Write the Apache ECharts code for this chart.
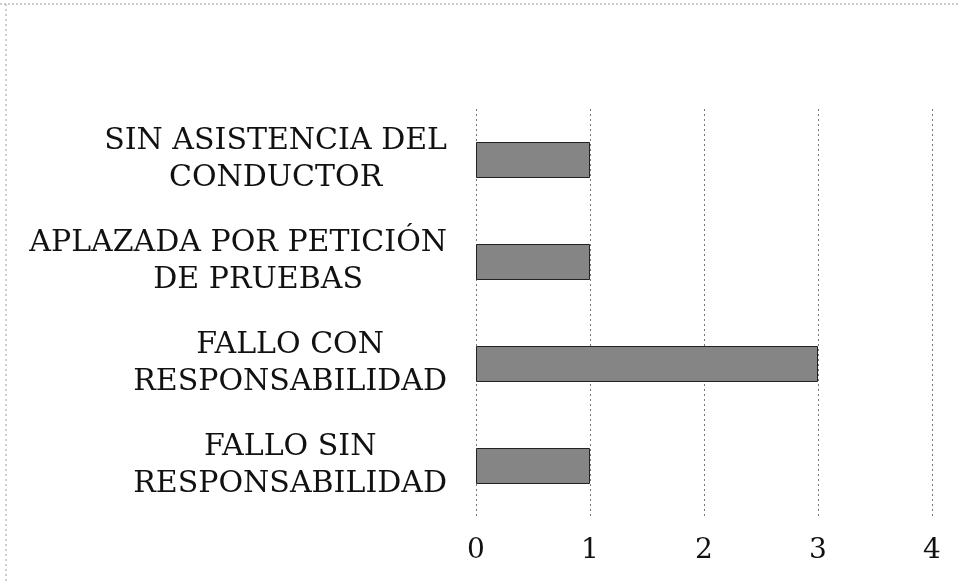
<!DOCTYPE html>
<html>
<head>
<meta charset="utf-8">
<script src="https://cdn.jsdelivr.net/npm/echarts@6/dist/echarts.min.js"></script>
<style>html,body{margin:0;padding:0;background:#fff}#c{width:959px;height:583px}</style>
</head>
<body>
<div id="c"></div>
<script>
const categories = [
  'SIN ASISTENCIA DEL\nCONDUCTOR',
  'APLAZADA POR PETICIÓN\nDE PRUEBAS',
  'FALLO CON\nRESPONSABILIDAD',
  'FALLO SIN\nRESPONSABILIDAD'
];
const values = [1, 1, 3, 1];
const xTicks = [0, 1, 2, 3, 4];

const chart = echarts.init(document.getElementById('c'), null, {renderer: 'canvas'});
const serif = '"DejaVu Serif", "Liberation Serif", serif';
chart.setOption({
  backgroundColor: '#ffffff',
  animation: false,
  graphic: [
    {type: 'line', shape: {x1: 0, y1: 4, x2: 959, y2: 4}, style: {stroke: '#9a9a9a', lineWidth: 1, lineDash: [2, 2]}},
    {type: 'line', shape: {x1: 6, y1: 4, x2: 6, y2: 583}, style: {stroke: '#9a9a9a', lineWidth: 1, lineDash: [2, 3]}}
  ],
  grid: {left: 476, right: 27, top: 109, bottom: 66, containLabel: false},
  xAxis: {
    type: 'value',
    min: xTicks[0],
    max: xTicks[xTicks.length - 1],
    interval: 1,
    axisLine: {show: false},
    axisTick: {show: false},
    axisLabel: {fontFamily: serif, fontSize: 28, color: '#111', margin: 20},
    splitLine: {show: true, lineStyle: {color: '#777', type: [2, 3], width: 1}}
  },
  yAxis: {
    type: 'category',
    inverse: true,
    data: categories,
    axisLine: {show: false},
    axisTick: {show: false},
    axisLabel: {
      margin: 29,
      formatter: function (v) {
        return v.split('\n').map(function (s) {
          return (s === 'DE PRUEBAS' ? '{d|' : '{c|') + s + '}';
        }).join('\n');
      },
      rich: {
        c: {align: 'center', fontFamily: serif, fontSize: 30, color: '#111', lineHeight: 37},
        d: {align: 'center', fontFamily: serif, fontSize: 30, color: '#111', lineHeight: 37, padding: [0, 0, 0, 40]}
      }
    }
  },
  series: [{
    type: 'bar',
    data: values,
    barWidth: 36,
    itemStyle: {color: '#858585', borderColor: '#222', borderWidth: 1}
  }]
});
</script>
</body>
</html>
